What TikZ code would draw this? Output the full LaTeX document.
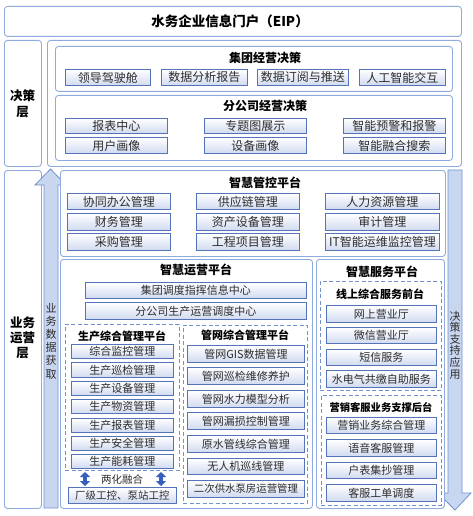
\documentclass[tikz,border=0pt]{standalone}
\usepackage{fontspec}
\setmainfont{Noto Sans CJK SC}
\usetikzlibrary{arrows.meta,shadows}
\definecolor{cbord}{RGB}{143,170,220}
\definecolor{ibord}{RGB}{84,115,185}
\definecolor{ifill}{RGB}{208,218,240}
\definecolor{tgray}{RGB}{45,45,45}
\definecolor{afill}{RGB}{200,214,240}
\definecolor{abord}{RGB}{115,145,205}
\definecolor{darr}{RGB}{55,95,190}
\newcommand{\fsz}[1]{\fontsize{#1}{#1}\selectfont}
\newcommand{\fsb}[2]{\fontsize{#1}{#2}\selectfont}
\newcommand{\boxat}[7]{\pgfmathsetmacro\myBW{#5-#3}\pgfmathsetmacro\myBH{#6-#4}%
  \node[#1, anchor=north west, minimum width=\myBW pt, minimum height=\myBH pt] (#2) at (#3,#4) {#7};}
\tikzset{
  container/.style={draw=cbord, line width=0.9pt, rounded corners=3pt, fill=white, inner sep=0pt},
  dbox/.style={draw=abord, line width=0.8pt, dash pattern=on 4pt off 2.5pt, inner sep=0pt},
  item/.style={draw=ibord, line width=0.9pt, top color=white, bottom color=ifill, text=tgray,
    inner sep=0pt, font=\fsz{11},
    drop shadow={shadow xshift=0.7pt, shadow yshift=-0.7pt, fill=black, opacity=0.25}},
  ttl/.style={font=\bfseries\fsz{12}, text=black, inner sep=0pt},
  bigarrow/.style={fill=afill, draw=abord, line width=0.8pt},
  dbl/.style={draw=darr, line width=3.5pt, {Triangle[length=5pt,width=10pt]}-{Triangle[length=5pt,width=10pt]}},
}
\begin{document}
\begin{tikzpicture}[x=1pt,y=-1pt]
\useasboundingbox (0,0) rectangle (472,516);

% EIP
\boxat{container}{eip}{4}{6}{461}{36}{}
\node[ttl, font=\bfseries\fsz{13.5}] (eipt) at (230,21) {水务企业信息门户（EIP）};

% decision layer
\boxat{container}{lbl1}{4}{40}{41}{166}{}
\node[ttl, font=\bfseries\fsb{12.5}{16}, align=center] (lbl1t) at (22.5,104) {决策\\层};
\boxat{container}{dec}{47}{40}{461}{166}{}
\boxat{container}{grp}{55}{46}{452}{91}{}
\node[ttl] (grpt) at (265,58) {集团经营决策};
\boxat{item,font=\fsz{12}}{g1}{65}{69}{150}{85}{领导驾驶舱}
\boxat{item,font=\fsz{12}}{g2}{161}{69}{247}{85}{数据分析报告}
\boxat{item,font=\fsz{12}}{g3}{257}{69}{348}{85}{数据订阅与推送}
\boxat{item,font=\fsz{12}}{g4}{359}{69}{445}{85}{人工智能交互}
\boxat{container}{br}{55}{95}{452}{160}{}
\node[ttl] (brt) at (265,106) {分公司经营决策};
\boxat{item,font=\fsz{12}}{b1}{65}{118}{167}{133}{报表中心}
\boxat{item,font=\fsz{12}}{b2}{204}{118}{306}{133}{专题图展示}
\boxat{item,font=\fsz{12}}{b3}{343}{118}{445}{133}{智能预警和报警}
\boxat{item,font=\fsz{12}}{b4}{65}{137}{167}{153}{用户画像}
\boxat{item,font=\fsz{12}}{b5}{204}{137}{306}{153}{设备画像}
\boxat{item,font=\fsz{12}}{b6}{343}{137}{445}{153}{智能融合搜索}

% business layer
\boxat{container}{lbl2}{4}{170}{41}{508}{}
\node[ttl, font=\bfseries\fsb{12.5}{15}, align=center] (lbl2t) at (22.5,338) {业务\\运营\\层};

\draw[bigarrow] (44,508) -- (44,185) -- (35,185) -- (50.5,169) -- (66,185) -- (58,185) -- (58,508) -- cycle;
\node[font=\fsb{11}{13.2}, text=tgray, align=center, inner sep=0pt] (upt) at (51,341) {业\\务\\数\\据\\获\\取};
\draw[bigarrow] (448,170) -- (448,493) -- (438,493) -- (455,510) -- (471,493) -- (462,493) -- (462,170) -- cycle;
\node[font=\fsb{11}{11.6}, text=tgray, align=center, inner sep=0pt] (dnt) at (455,345) {决\\策\\支\\持\\应\\用};

% control platform
\boxat{container}{ctl}{60}{170}{445}{256}{}
\node[ttl] (ctlt) at (265,183) {智慧管控平台};
\boxat{item,font=\fsz{12}}{c1}{67}{193}{170}{209}{协同办公管理}
\boxat{item,font=\fsz{12}}{c2}{196}{193}{299}{209}{供应链管理}
\boxat{item,font=\fsz{12}}{c3}{325}{193}{439}{209}{人力资源管理}
\boxat{item,font=\fsz{12}}{c4}{67}{213}{170}{230}{财务管理}
\boxat{item,font=\fsz{12}}{c5}{196}{213}{299}{230}{资产设备管理}
\boxat{item,font=\fsz{12}}{c6}{325}{213}{439}{230}{审计管理}
\boxat{item,font=\fsz{12}}{c7}{67}{233}{170}{250}{采购管理}
\boxat{item,font=\fsz{12}}{c8}{196}{233}{299}{250}{工程项目管理}
\boxat{item,font=\fsz{12}}{c9}{325}{233}{439}{250}{IT智能运维监控管理}

% operations platform
\boxat{container}{ops}{60}{259}{312}{508}{}
\node[ttl] (opst) at (196,270) {智慧运营平台};
\boxat{item}{o1}{85}{282}{306}{298}{集团调度指挥信息中心}
\boxat{item}{o2}{85}{302}{306}{319}{分公司生产运营调度中心}

\boxat{dbox}{prod}{65}{324}{179}{470}{}
\node[ttl, font=\bfseries\fsz{11}] (prodt) at (122,336) {生产综合管理平台};
\boxat{item}{p1}{71}{344}{173}{358}{综合监控管理}
\boxat{item}{p2}{71}{362}{173}{377}{生产巡检管理}
\boxat{item}{p3}{71}{381}{173}{395}{生产设备管理}
\boxat{item}{p4}{71}{399}{173}{413}{生产物资管理}
\boxat{item}{p5}{71}{418}{173}{432}{生产报表管理}
\boxat{item}{p6}{71}{436}{173}{450}{生产安全管理}
\boxat{item}{p7}{71}{454}{173}{468}{生产能耗管理}

\boxat{item,font=\fsz{10.5}}{plc}{68}{487}{176}{503}{厂级工控、泵站工控}
\node[font=\fsz{10.5}, text=tgray, inner sep=0pt] (lh) at (122,479) {两化融合};
\coordinate (d1a) at (85,472);
\coordinate (d1b) at (85,486);
\coordinate (d2a) at (161,472);
\coordinate (d2b) at (161,486);
\draw[dbl] (d1a) -- (d1b);
\draw[dbl] (d2a) -- (d2b);

\boxat{dbox}{net}{183}{325}{307}{503}{}
\node[ttl, font=\bfseries\fsz{11}] (nett) at (245,335) {管网综合管理平台};
\boxat{item}{n1}{187}{345}{304}{362}{管网GIS数据管理}
\boxat{item}{n2}{187}{367}{304}{384}{管网巡检维修养护}
\boxat{item}{n3}{187}{390}{304}{407}{管网水力模型分析}
\boxat{item}{n4}{187}{412}{304}{429}{管网漏损控制管理}
\boxat{item}{n5}{187}{435}{304}{452}{原水管线综合管理}
\boxat{item}{n6}{187}{458}{304}{474}{无人机巡线管理}
\boxat{item,font=\fsz{10.4}}{n7}{187}{480}{304}{497}{二次供水泵房运营管理}

% service platform
\boxat{container}{svc}{316}{259}{444}{508}{}
\node[ttl] (svct) at (382,272) {智慧服务平台};
\boxat{dbox}{onl}{320}{281}{441}{390}{}
\node[ttl, font=\bfseries\fsz{11}] (onlt) at (380,294) {线上综合服务前台};
\boxat{item}{s1}{326}{305}{436}{322}{网上营业厅}
\boxat{item}{s2}{326}{327}{436}{343}{微信营业厅}
\boxat{item}{s3}{326}{349}{436}{365}{短信服务}
\boxat{item}{s4}{326}{370}{436}{387}{水电气共缴自助服务}
\boxat{dbox}{mkt}{321}{395}{441}{505}{}
\node[ttl, font=\bfseries\fsz{10.3}] (mktt) at (381,407) {营销客服业务支撑后台};
\boxat{item}{m1}{326}{417}{436}{433}{营销业务综合管理}
\boxat{item}{m2}{326}{439}{436}{456}{语音客服管理}
\boxat{item}{m3}{326}{462}{436}{478}{户表集抄管理}
\boxat{item}{m4}{326}{484}{436}{501}{客服工单调度}
\end{tikzpicture}
\end{document}
